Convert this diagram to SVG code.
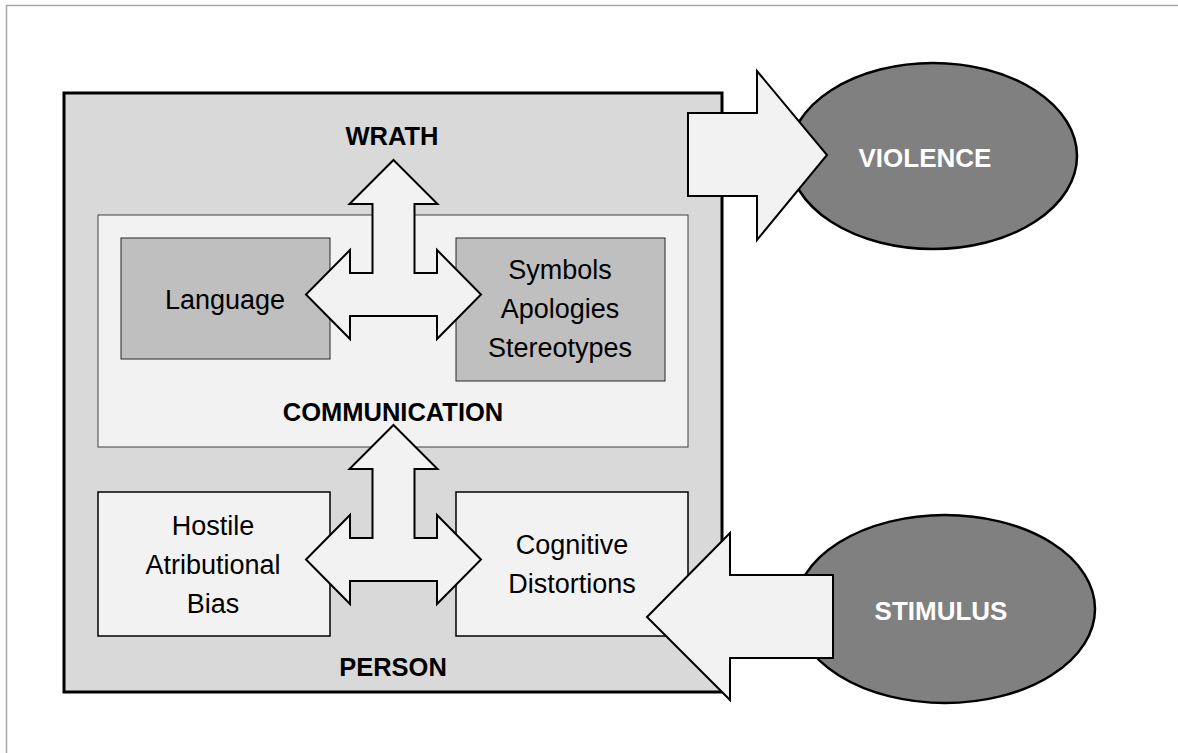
<svg xmlns="http://www.w3.org/2000/svg" width="1178" height="753" viewBox="0 0 1178 753">
<style>
.lbl{font-family:"Liberation Sans",Arial,sans-serif;font-size:27px;fill:#000;text-anchor:middle}
.ttl{font-family:"Liberation Sans",Arial,sans-serif;font-size:25.5px;font-weight:bold;fill:#000;text-anchor:middle}
.wt{font-family:"Liberation Sans",Arial,sans-serif;font-size:26px;font-weight:bold;fill:#fff;text-anchor:middle}
.arrow{fill:#f2f2f2;stroke:#000;stroke-width:2;stroke-linejoin:miter}
.oval{fill:#808080;stroke:#000;stroke-width:2.5}
</style>
<rect x="6.5" y="5.5" width="1200" height="800" fill="#fff" stroke="#a6a6a6" stroke-width="1.5"/>
<g id="person">
<rect x="64" y="93" width="658" height="599" fill="#d9d9d9" stroke="#000" stroke-width="3"/>
<text class="ttl" x="393" y="676">PERSON</text>
</g>
<g id="communication">
<rect x="98" y="215" width="590" height="232" fill="#f2f2f2" stroke="#404040" stroke-width="1"/>
<text class="ttl" x="393" y="421">COMMUNICATION</text>
</g>
<g id="language">
<rect x="121" y="238" width="209" height="121" fill="#bfbfbf" stroke="#262626" stroke-width="1"/>
<text class="lbl" x="225" y="309">Language</text>
</g>
<g id="symbols">
<rect x="456" y="238" width="209" height="143" fill="#bfbfbf" stroke="#262626" stroke-width="1"/>
<text class="lbl" x="560" y="279">Symbols</text>
<text class="lbl" x="560" y="318">Apologies</text>
<text class="lbl" x="560" y="357">Stereotypes</text>
</g>
<g id="hostile">
<rect x="98" y="492" width="232" height="144" fill="#f2f2f2" stroke="#000" stroke-width="1.5"/>
<text class="lbl" x="213" y="535">Hostile</text>
<text class="lbl" x="213" y="574">Atributional</text>
<text class="lbl" x="213" y="613">Bias</text>
</g>
<g id="cognitive">
<rect x="456" y="492" width="232" height="144" fill="#f2f2f2" stroke="#000" stroke-width="1.5"/>
<text class="lbl" x="572" y="554">Cognitive</text>
<text class="lbl" x="572" y="593">Distortions</text>
</g>
<g id="wrath">
<text class="ttl" x="392" y="145">WRATH</text>
</g>
<g id="violence">
<ellipse class="oval" cx="933" cy="156" rx="144" ry="93"/>
<text class="wt" x="925" y="167">VIOLENCE</text>
</g>
<g id="stimulus">
<ellipse class="oval" cx="945" cy="609" rx="150" ry="94"/>
<text class="wt" x="941" y="620">STIMULUS</text>
</g>
<g id="connectors">
<path class="arrow" d="M393.5,160 L437.5,204 L414.5,204 L414.5,273 L437,273 L437,250 L481,294.5 L437,339 L437,316 L350,316 L350,339 L306,294.5 L350,250 L350,273 L372.5,273 L372.5,204 L349.5,204 Z"/>
<path class="arrow" transform="translate(0,265)" d="M393.5,160 L437.5,204 L414.5,204 L414.5,273 L437,273 L437,250 L481,294.5 L437,339 L437,316 L350,316 L350,339 L306,294.5 L350,250 L350,273 L372.5,273 L372.5,204 L349.5,204 Z"/>
<path class="arrow" d="M688,113 L757,113 L757,71 L827,155 L757,240 L757,196 L688,196 Z"/>
<path class="arrow" d="M647,617 L730,533 L730,575 L833,575 L833,658 L730,658 L730,700 Z"/>
</g>
</svg>
